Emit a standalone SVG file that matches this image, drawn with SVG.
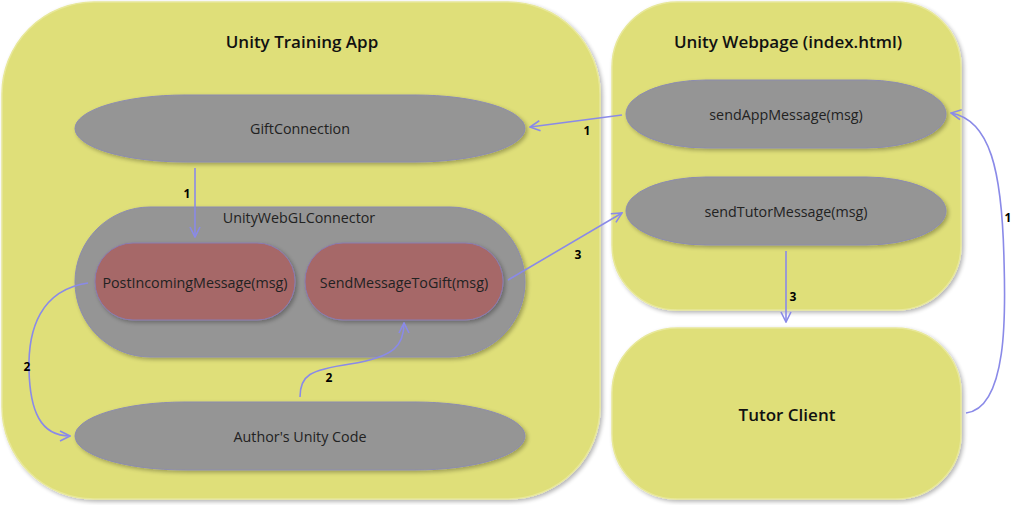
<svg xmlns="http://www.w3.org/2000/svg" width="1011" height="505" viewBox="0 0 1011 505">
<defs>
<filter id="sh" x="-10%" y="-10%" width="125%" height="130%">
<feGaussianBlur in="SourceAlpha" stdDeviation="2"/>
<feOffset dx="2" dy="2" result="b"/>
<feComponentTransfer><feFuncA type="linear" slope="0.3"/></feComponentTransfer>
<feMerge><feMergeNode/><feMergeNode in="SourceGraphic"/></feMerge>
</filter>
<marker id="ah" viewBox="0 0 12 12" refX="11" refY="6" markerWidth="12" markerHeight="12" markerUnits="userSpaceOnUse" orient="auto">
<path d="M1,1 L11,6 L1,11" fill="none" stroke="#8a8ae8" stroke-width="1.6"/>
</marker>
<style>
.cont{fill:#dfdf79;stroke:#e8e89a;stroke-width:1.5;filter:url(#sh)}
.gray{fill:#959595;stroke:#8c8cb0;stroke-width:1;filter:url(#sh)}
.red{fill:#a66868;stroke:#8a7ab0;stroke-width:1;filter:url(#sh)}
.title{font-family:"Open Sans","Noto Sans",sans-serif;font-size:17px;font-weight:600;fill:#111;text-anchor:middle}
.lbl{font-family:"Open Sans","Noto Sans",sans-serif;font-size:14.3px;fill:#222;text-anchor:middle}
.conn{fill:none;stroke:#8a8ae8;stroke-width:1.6;marker-end:url(#ah)}
.num{font-family:"Open Sans","Noto Sans",sans-serif;font-size:12px;font-weight:700;fill:#000;text-anchor:middle}
</style>
</defs>
<g id="unity-training-app">
<rect class="cont" x="2" y="2" width="598" height="497" rx="92" ry="92"/>
<text class="title" x="302" y="48">Unity Training App</text>
</g>
<g id="gift-connection">
<rect class="gray" x="75" y="95" width="450" height="67" rx="110" ry="34"/>
<text class="lbl" x="300" y="134">GiftConnection</text>
</g>
<g id="unity-webgl-connector">
<rect class="gray" x="75" y="207" width="450" height="150" rx="75" ry="75"/>
<text class="lbl" x="299" y="223">UnityWebGLConnector</text>
</g>
<g id="post-incoming-message">
<rect class="red" x="95" y="243" width="200" height="77" rx="38" ry="38"/>
<text class="lbl" x="195" y="288">PostIncomingMessage(msg)</text>
</g>
<g id="send-message-to-gift">
<rect class="red" x="305" y="243" width="198" height="77" rx="38" ry="38"/>
<text class="lbl" x="404" y="288">SendMessageToGift(msg)</text>
</g>
<g id="authors-unity-code">
<rect class="gray" x="75" y="402" width="450" height="68" rx="110" ry="34"/>
<text class="lbl" x="300" y="442">Author's Unity Code</text>
</g>
<g id="unity-webpage">
<rect class="cont" x="612" y="2" width="349" height="308" rx="65" ry="65"/>
<text class="title" x="788" y="48">Unity Webpage (index.html)</text>
</g>
<g id="send-app-message">
<rect class="gray" x="626" y="80" width="320" height="68" rx="80" ry="34"/>
<text class="lbl" x="786" y="120">sendAppMessage(msg)</text>
</g>
<g id="send-tutor-message">
<rect class="gray" x="626" y="177" width="320" height="68" rx="80" ry="34"/>
<text class="lbl" x="786" y="217">sendTutorMessage(msg)</text>
</g>
<g id="tutor-client">
<rect class="cont" x="612" y="328" width="349" height="171" rx="65" ry="65"/>
<text class="title" x="787" y="421">Tutor Client</text>
</g>
<g id="connectors">
<path class="conn" d="M622,115 L530,127"/>
<text class="num" x="587" y="135">1</text>
<path class="conn" d="M195,168 L195,237"/>
<text class="num" x="187" y="198">1</text>
<path class="conn" d="M88,283 C40,290 28,330 29,370 C30,410 40,436 70,436"/>
<text class="num" x="27" y="371">2</text>
<path class="conn" d="M300,397 C300,375 310,370 350,364 C395,357 404,345 404,323"/>
<text class="num" x="329" y="382">2</text>
<path class="conn" d="M508,280 L622,213"/>
<text class="num" x="578" y="259">3</text>
<path class="conn" d="M786,251 L786,322"/>
<text class="num" x="793" y="301">3</text>
<path class="conn" d="M966,413 C1010,408 1005,300 1004,260 C1002,170 990,120 951,113"/>
<text class="num" x="1008" y="222">1</text>
</g>
</svg>
